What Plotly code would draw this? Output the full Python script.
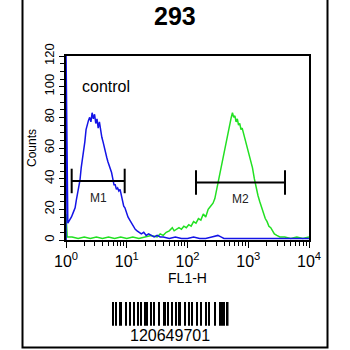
import math
import plotly.graph_objects as go

# ---------------- data ----------------
title_text = "293"
sample_label = "control"
barcode_text = "120649701"

# blue (control) histogram: log10(FL1-H) positions and counts
blue_decades = [0, 0, 0.03, 0.06, 0.09, 0.12, 0.15, 0.17, 0.19, 0.21, 0.23, 0.25, 0.27, 0.29, 0.31,
                0.33, 0.35, 0.37, 0.39, 0.41, 0.43, 0.45, 0.47, 0.49, 0.51, 0.53, 0.55, 0.57, 0.59,
                0.61, 0.63, 0.65, 0.67, 0.69, 0.71, 0.73, 0.75, 0.77, 0.79, 0.81, 0.83, 0.85, 0.87,
                0.89, 0.91, 0.93, 0.95, 0.97, 0.99, 1.02, 1.05, 1.08, 1.11, 1.14, 1.17, 1.20, 1.24,
                1.28, 1.32, 1.36, 1.40, 1.45, 1.5, 1.55, 1.6, 1.7, 1.8, 1.9, 2.0, 2.1, 2.2, 2.3, 2.4,
                2.5, 2.55, 2.6, 2.7, 2.8, 3.0, 3.2, 3.4, 3.6, 3.8, 4.0]
blue_counts = [0, 125, 11, 13, 15, 18, 21, 26, 30, 35, 39, 47, 52, 60, 64,
               72, 76, 78, 80, 77, 83, 79, 82, 76, 79, 73, 77, 71, 67,
               64, 60, 58, 54, 51, 49, 46, 44, 40, 36, 36, 33, 34, 32,
               33, 29, 26, 22, 21, 18, 15, 13, 11, 9, 7, 6, 5, 4,
               5, 3, 4, 3, 2, 3, 2, 2, 1, 2, 1, 1, 2, 1, 1, 2,
               3, 2, 1, 1, 1, 1, 1, 1, 1, 1, 1]

# green (sample) histogram
green_decades = [0, 0, 0.02, 0.1, 0.2, 0.3, 0.4, 0.5, 0.6, 0.7, 0.8, 0.9, 1.0, 1.1, 1.2, 1.3, 1.4,
                 1.5, 1.55, 1.6, 1.65, 1.7, 1.75, 1.78, 1.82, 1.86, 1.9, 1.94, 1.98, 2.02, 2.06,
                 2.1, 2.14, 2.18, 2.22, 2.26, 2.3, 2.34, 2.38, 2.42, 2.45, 2.48, 2.51, 2.54, 2.57,
                 2.6, 2.63, 2.66, 2.68, 2.7, 2.72, 2.74, 2.76, 2.78, 2.8, 2.82, 2.84, 2.86, 2.88,
                 2.9, 2.92, 2.95, 2.98, 3.01, 3.04, 3.07, 3.1, 3.13, 3.16, 3.19, 3.22, 3.25, 3.28,
                 3.31, 3.34, 3.37, 3.4, 3.43, 3.47, 3.52, 3.6, 3.7, 3.8, 3.9, 4.0]
green_counts = [0, 17, 2, 2, 1, 2, 1, 2, 1, 2, 1, 2, 1, 2, 1, 2, 3,
                2, 4, 3, 5, 6, 8, 6, 7, 8, 7, 9, 8, 10, 9,
                12, 11, 14, 13, 17, 15, 20, 22, 24, 27, 33, 40, 46, 52,
                58, 64, 70, 72, 78, 80, 83, 80, 81, 77, 79, 75, 76, 72,
                73, 70, 66, 62, 57, 52, 47, 40, 34, 29, 25, 21, 18, 14,
                12, 9, 8, 6, 4, 3, 2, 2, 1, 2, 1, 2]

# gate markers
marker_names = ["M1", "M2"]
marker_lo = [1.24, 138]
marker_hi = [9.25, 4027]
marker_level = [38.5, 37.5]

# axis ticks
x_major = [1, 10, 100, 1000, 10000]
x_major_text = ["10<sup>0</sup>", "10<sup>1</sup>", "10<sup>2</sup>", "10<sup>3</sup>", "10<sup>4</sup>"]
y_major = [0, 20, 40, 60, 80, 100, 120]

# barcode module widths (bar, space, bar, ...)
barcode_modules = [2, 1, 1, 2, 3, 2, 2, 2, 1, 2, 2, 2, 1, 1, 2, 2, 3, 2, 1, 2, 1, 3, 2, 2,
                   3, 1, 1, 2, 2, 2, 1, 1, 3, 2, 2, 2, 2, 1, 1, 3, 1, 3, 1, 3, 1, 1, 2, 3,
                   2, 3, 3, 1, 1, 1, 2]

# ---------------- figure ----------------
FONT = "Liberation Sans, Arial, sans-serif"
W = H = 350

def px_x(p):
    return p / W

def px_y(p):
    return 1 - p / H

fig = go.Figure()

fig.add_trace(go.Scatter(x=[10 ** d for d in green_decades], y=green_counts, mode="lines",
                         line=dict(color="#22e022", width=1.5), showlegend=False, hoverinfo="skip"))
fig.add_trace(go.Scatter(x=[10 ** d for d in blue_decades], y=blue_counts, mode="lines",
                         line=dict(color="#1414e6", width=1.5), showlegend=False, hoverinfo="skip"))

cap = 8
for name, lo, hi, lv in zip(marker_names, marker_lo, marker_hi, marker_level):
    fig.add_trace(go.Scatter(
        x=[lo, lo, None, lo, hi, None, hi, hi],
        y=[lv - cap, lv + cap, None, lv, lv, None, lv - cap, lv + cap],
        mode="lines", line=dict(color="black", width=2), showlegend=False, hoverinfo="skip"))
    mid = (math.log10(lo) + math.log10(hi)) / 2
    fig.add_annotation(x=mid, y=lv - 11, text=name, showarrow=False, yanchor="middle",
                       font=dict(family=FONT, size=12, color="#222"), xref="x", yref="y")

# barcode as bars on their own axes
bx, bw = [], []
pos = 0
for i, w in enumerate(barcode_modules):
    if i % 2 == 0:
        bx.append(pos + w / 2)
        bw.append(w)
    pos += w
fig.add_trace(go.Bar(x=bx, y=[1] * len(bx), width=bw, marker=dict(color="black", line=dict(width=0)),
                     xaxis="x2", yaxis="y2", showlegend=False, hoverinfo="skip"))

minor_vals = [m * 10 ** e for e in range(4) for m in range(2, 10)]

fig.update_layout(
    width=W, height=H, margin=dict(l=0, r=0, t=0, b=0, autoexpand=False),
    paper_bgcolor="white", plot_bgcolor="white",
    font=dict(family=FONT, color="black"),
    xaxis=dict(type="log", range=[0, 4], domain=[px_x(66), px_x(309)],
               tickvals=x_major, ticktext=x_major_text, ticks="outside", ticklen=6, tickwidth=1.3,
               tickcolor="black", tickfont=dict(size=16, family=FONT),
               minor=dict(tickvals=minor_vals, ticks="outside", ticklen=4, tickwidth=1.3, tickcolor="black"),
               showline=True, linecolor="black", linewidth=1.5, mirror=True,
               showgrid=False, zeroline=False,
               title=dict(text="FL1-H", font=dict(size=14, family=FONT), standoff=0)),
    yaxis=dict(range=[0, 120], domain=[px_y(240), px_y(56)],
               tickvals=y_major, ticks="outside", ticklen=5, tickwidth=1.3, tickcolor="black",
               tickangle=-90, tickfont=dict(size=13, family=FONT),
               minor=dict(dtick=5, ticks="outside", ticklen=4, tickwidth=1.3, tickcolor="black", showgrid=False),
               showline=True, linecolor="black", linewidth=1.5, mirror=True,
               showgrid=False, zeroline=False,
               title=dict(text="Counts", font=dict(size=12, family=FONT), standoff=3)),
    xaxis2=dict(domain=[px_x(112), px_x(228.5)], range=[0, pos], anchor="y2",
                visible=False, fixedrange=True),
    yaxis2=dict(domain=[px_y(325.7), px_y(301.7)], range=[0, 1], anchor="x2",
                visible=False, fixedrange=True),
    bargap=0,
)

fig.add_annotation(x=px_x(175), y=px_y(16), xref="paper", yref="paper", text="<b>" + title_text + "</b>",
                   showarrow=False, yanchor="middle", font=dict(size=25, family=FONT, color="black"))
fig.add_annotation(x=px_x(80), y=px_y(86), xref="paper", yref="paper", text=sample_label,
                   showarrow=False, xanchor="left", yanchor="middle",
                   font=dict(size=16, family=FONT, color="black"))
fig.add_annotation(x=px_x(170), y=px_y(335), xref="paper", yref="paper", text=barcode_text,
                   showarrow=False, yanchor="middle", font=dict(size=16, family=FONT, color="black"))

fig.add_shape(type="rect", xref="paper", yref="paper", x0=px_x(22.5), x1=px_x(327.5),
              y0=px_y(347.5), y1=px_y(-2), line=dict(color="black", width=2))

fig.write_html("out.html", post_script="document.body.style.margin='0';")
